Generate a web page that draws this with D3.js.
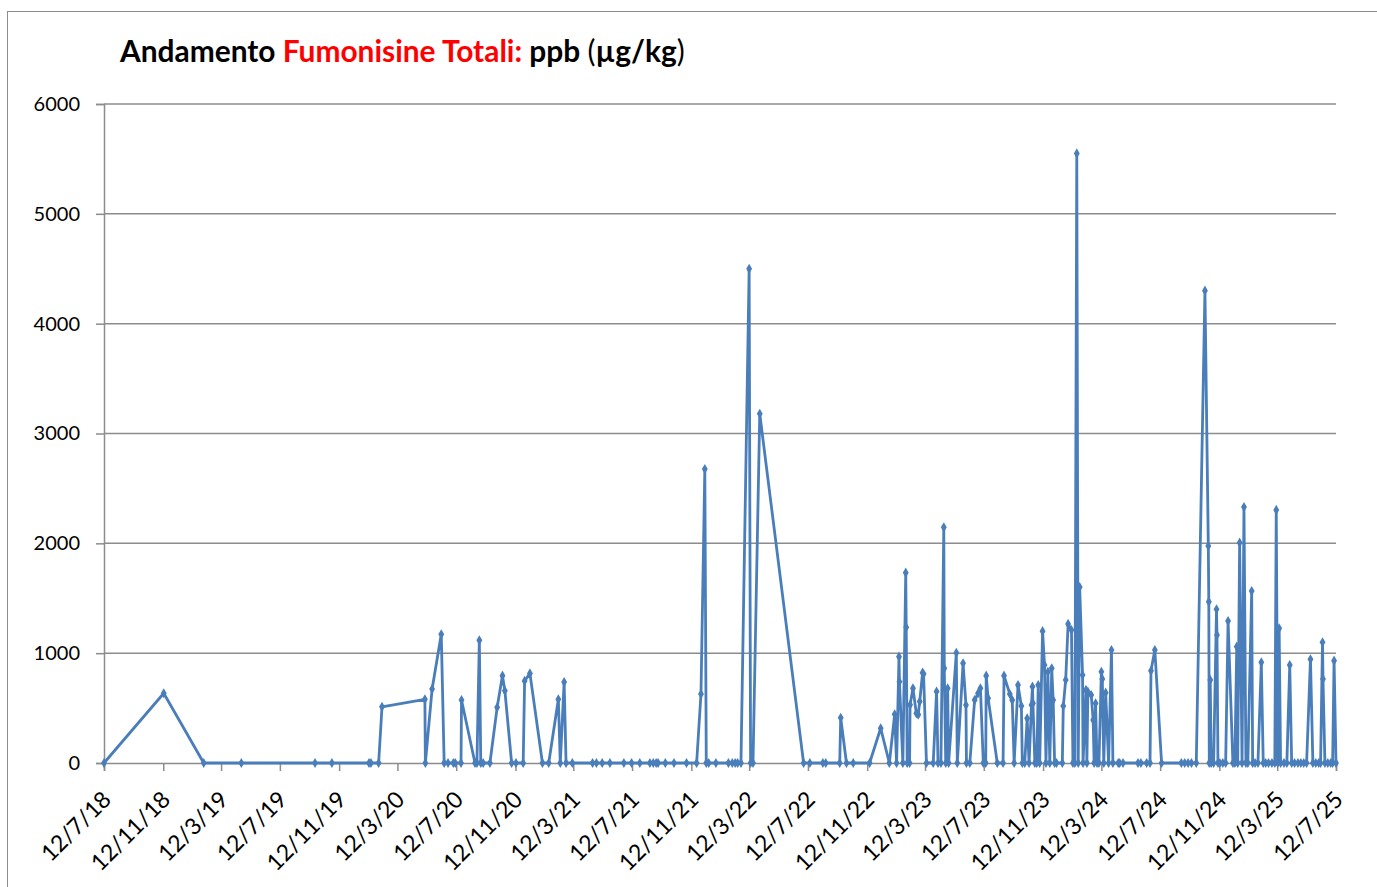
<!DOCTYPE html>
<html><head><meta charset="utf-8">
<script src="https://cdn.jsdelivr.net/npm/d3@7"></script>
<style>body{margin:0;background:#fff} svg{display:block}</style>
</head><body>
<svg id="c" width="1377" height="887"></svg>
<script>
const sampleDates = [
"2018-07-12","2018-11-13","2019-02-04","2019-04-23","2019-09-23","2019-10-28","2020-01-13","2020-01-17","2020-02-02","2020-02-09",
"2020-05-08","2020-05-09","2020-05-23","2020-06-11","2020-06-17","2020-06-25","2020-07-06","2020-07-10","2020-07-22","2020-07-23",
"2020-08-20","2020-08-24","2020-08-29","2020-09-01","2020-09-06","2020-09-20","2020-10-05","2020-10-16","2020-10-21","2020-11-04",
"2020-11-13","2020-11-28","2020-12-01","2020-12-12","2021-01-07","2021-01-20","2021-02-09","2021-02-13","2021-02-21","2021-02-25",
"2021-03-10","2021-04-21","2021-04-29","2021-05-11","2021-05-27","2021-06-25","2021-07-11","2021-07-28","2021-08-18","2021-08-25",
"2021-08-31","2021-09-04","2021-09-19","2021-10-07","2021-11-02","2021-11-23","2021-12-02","2021-12-10","2021-12-13","2021-12-18",
"2022-01-02","2022-01-28","2022-02-05","2022-02-11","2022-02-16","2022-02-23","2022-03-12","2022-03-15","2022-03-20","2022-04-03",
"2022-07-03","2022-07-16","2022-08-12","2022-08-18","2022-09-16","2022-09-18","2022-09-30","2022-10-14","2022-11-17","2022-12-10",
"2022-12-28","2023-01-08","2023-01-12","2023-01-17","2023-01-18","2023-01-25","2023-01-31","2023-02-01","2023-02-03","2023-02-08",
"2023-02-09","2023-02-15","2023-02-22","2023-02-26","2023-03-01","2023-03-07","2023-03-09","2023-03-15","2023-03-29","2023-04-05",
"2023-04-08","2023-04-14","2023-04-20","2023-04-21","2023-04-24","2023-04-28","2023-04-30","2023-05-16","2023-05-18","2023-05-30",
"2023-06-05","2023-06-06","2023-06-13","2023-06-23","2023-06-30","2023-07-05","2023-07-11","2023-07-16","2023-07-17","2023-07-21",
"2023-08-09","2023-08-21","2023-08-23","2023-09-04","2023-09-09","2023-09-13","2023-09-21","2023-09-28","2023-09-30","2023-10-05",
"2023-10-10","2023-10-14","2023-10-19","2023-10-21","2023-10-22","2023-10-26","2023-10-30","2023-11-02","2023-11-05","2023-11-11",
"2023-11-15","2023-11-18","2023-11-22","2023-11-26","2023-11-30","2023-12-03","2023-12-06","2023-12-10","2023-12-22","2023-12-24",
"2023-12-29","2024-01-03","2024-01-10","2024-01-13","2024-01-17","2024-01-21","2024-01-24","2024-01-27","2024-02-02","2024-02-03",
"2024-02-09","2024-02-11","2024-02-13","2024-02-20","2024-02-24","2024-02-26","2024-02-29","2024-03-03","2024-03-07","2024-03-12",
"2024-03-14","2024-03-17","2024-03-21","2024-03-27","2024-04-02","2024-04-05","2024-04-16","2024-04-19","2024-04-26","2024-05-27",
"2024-06-02","2024-06-14","2024-06-21","2024-06-23","2024-07-01","2024-07-15","2024-08-25","2024-09-01","2024-09-08","2024-09-15",
"2024-09-25","2024-10-13","2024-10-20","2024-10-21","2024-10-22","2024-10-24","2024-10-26","2024-10-31","2024-11-06","2024-11-07",
"2024-11-09","2024-11-13","2024-11-19","2024-11-25","2024-11-30","2024-12-10","2024-12-14","2024-12-18","2024-12-20","2024-12-24",
"2024-12-29","2025-01-02","2025-01-06","2025-01-10","2025-01-18","2025-01-20","2025-01-25","2025-01-31","2025-02-07","2025-02-11",
"2025-02-16","2025-02-22","2025-03-01","2025-03-07","2025-03-10","2025-03-13","2025-03-16","2025-03-19","2025-03-26","2025-04-01",
"2025-04-07","2025-04-11","2025-04-17","2025-04-24","2025-04-30","2025-05-06","2025-05-12","2025-05-20","2025-05-25","2025-05-31",
"2025-06-06","2025-06-10","2025-06-14","2025-06-15","2025-06-19","2025-06-25","2025-07-01","2025-07-05","2025-07-08","2025-07-12"
];
const fumonisinValues = [
0,635,0,0,0,0,0,0,0,512,
580,0,674,1172,0,0,0,0,0,573,
0,0,1117,0,0,0,507,795,658,0,
0,0,747,816,0,0,580,0,737,0,
0,0,0,0,0,0,0,0,0,0,
0,0,0,0,0,0,628,2677,0,0,
0,0,0,0,0,0,4500,0,0,3180,
0,0,0,0,0,412,0,0,0,316,
0,443,0,968,740,0,1733,1235,0,0,
530,680,452,440,560,822,810,0,0,650,
0,0,2146,862,0,680,0,1004,0,908,
528,0,0,573,634,680,0,0,795,589,
0,0,795,628,573,0,710,519,0,0,
407,0,528,695,543,0,0,710,0,1200,
892,0,831,0,862,573,0,0,0,519,
756,1266,1211,0,0,5550,0,1602,801,0,
665,0,649,619,391,0,543,0,0,831,
765,0,640,0,1029,0,0,0,0,0,
0,0,0,840,1029,0,0,0,0,0,
0,4300,1976,1469,0,756,0,0,1400,1165,
0,0,0,0,1293,0,0,1059,0,2006,
0,2331,0,0,1566,0,0,0,917,0,
0,0,0,0,2304,0,1226,0,0,0,
892,0,0,0,0,0,0,944,0,0,
0,0,1099,765,0,0,0,0,932,0
];
const yTicks = [0,1000,2000,3000,4000,5000,6000];
const xTickDates = ["2018-07-12","2018-11-12","2019-03-12","2019-07-12","2019-11-12","2020-03-12","2020-07-12","2020-11-12",
"2021-03-12","2021-07-12","2021-11-12","2022-03-12","2022-07-12","2022-11-12","2023-03-12","2023-07-12","2023-11-12",
"2024-03-12","2024-07-12","2024-11-12","2025-03-12","2025-07-12"];
const xTickLabels = ["12/7/18","12/11/18","12/3/19","12/7/19","12/11/19","12/3/20","12/7/20","12/11/20","12/3/21","12/7/21",
"12/11/21","12/3/22","12/7/22","12/11/22","12/3/23","12/7/23","12/11/23","12/3/24","12/7/24","12/11/24","12/3/25","12/7/25"];

const parse = d3.timeParse("%Y-%m-%d");
const data = sampleDates.map((d,i)=>({date:parse(d), value:fumonisinValues[i]}));
const svg = d3.select("#c");
const FONT = "Lato, 'Open Sans', sans-serif";
const gridCol = "#8c8c8c";
const blue = "#4a7ebb";

svg.append("rect").attr("x",7.5).attr("y",11.5).attr("width",1400).attr("height",900)
  .attr("fill","none").attr("stroke","#8c8c8c").attr("stroke-width",1);

const x = d3.scaleTime().domain([parse(xTickDates[0]), parse(xTickDates[xTickDates.length-1])]).range([104,1336]);
const y = d3.scaleLinear().domain([0,6000]).range([763,104]);

// gridlines
svg.append("g").selectAll("line").data(yTicks.slice(1)).join("line")
  .attr("x1",104).attr("x2",1336).attr("y1",d=>y(d)).attr("y2",d=>y(d))
  .attr("stroke",gridCol).attr("stroke-width",1.5);

// y axis
const ya = svg.append("g").attr("transform","translate(104,0)")
  .call(d3.axisLeft(y).tickValues(yTicks).tickSize(8).tickPadding(16).tickFormat(d3.format("d")));
ya.select(".domain").attr("stroke",gridCol).attr("stroke-width",1.5);
ya.selectAll(".tick line").attr("stroke",gridCol).attr("stroke-width",1.5);
ya.selectAll("text").attr("font-family",FONT).attr("font-size",20).attr("fill","#000");

// x axis
const xa = svg.append("g").attr("transform","translate(0,763)")
  .call(d3.axisBottom(x).tickValues(xTickDates.map(parse)).tickSize(8).tickFormat((d,i)=>xTickLabels[i]));
xa.select(".domain").attr("stroke",gridCol).attr("stroke-width",1.5);
xa.selectAll(".tick line").attr("stroke",gridCol).attr("stroke-width",1.5);
xa.selectAll("text").attr("font-family",FONT).attr("font-size",23).attr("fill","#000")
  .attr("text-anchor","end").attr("x",0).attr("y",0).attr("dy",0)
  .attr("transform","translate(8,38) rotate(-45)");

// line
const line = d3.line().x(d=>x(d.date)).y(d=>y(d.value));
svg.append("path").datum(data).attr("d",line).attr("fill","none")
  .attr("stroke",blue).attr("stroke-width",2.8).attr("stroke-linejoin","round");

svg.append("g").selectAll("path").data(data).join("path")
  .attr("transform",d=>`translate(${x(d.date)},${y(d.value)})`)
  .attr("d",d3.symbol(d3.symbolDiamond,30)).attr("fill",blue);

// title
const title = svg.append("text").attr("x",120).attr("y",62).attr("font-family",FONT)
  .attr("font-size",24).attr("font-weight","bold");
title.append("tspan").text("Andamento ").attr("fill","#000");
title.append("tspan").text("Fumonisine Totali:").attr("fill","#ff0000");
title.append("tspan").text(" ppb ").attr("fill","#000");
title.append("tspan").text("(").attr("fill","#000").attr("font-weight","normal");
title.append("tspan").text("µg/kg").attr("fill","#000");
title.append("tspan").text(")").attr("fill","#000").attr("font-weight","normal");
const tw = title.node().getComputedTextLength();
title.attr("font-size", 24*565/tw);
</script>
</body></html>
